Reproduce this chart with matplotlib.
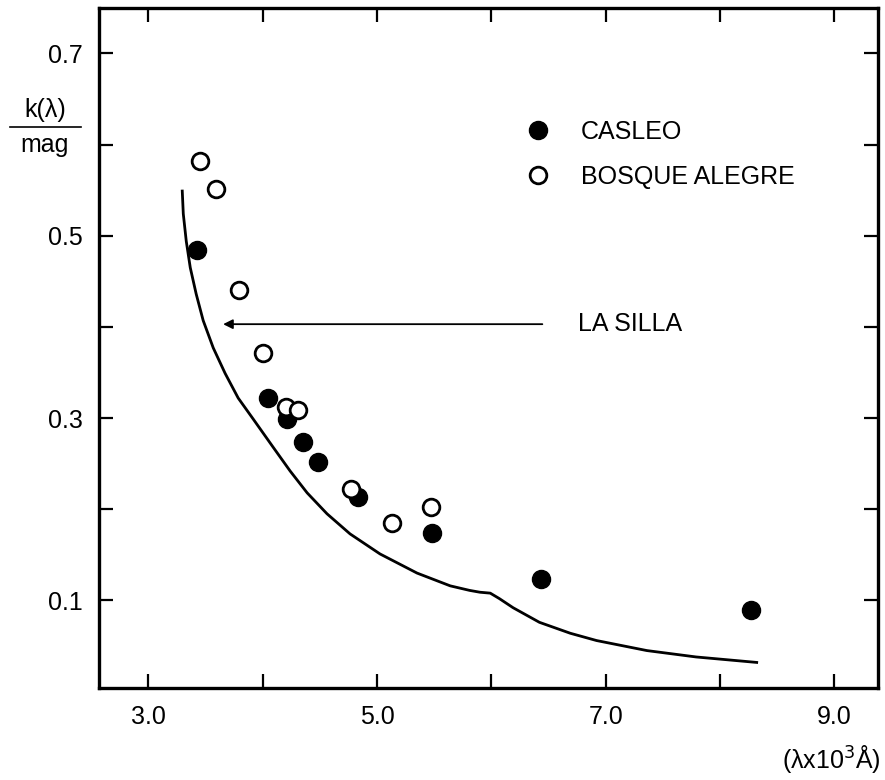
import matplotlib
matplotlib.use("Agg")
import matplotlib.pyplot as plt
from matplotlib.lines import Line2D

plt.rcParams['font.family'] = ['Liberation Sans', 'DejaVu Sans']

# CASLEO (filled circles)
casleo_wl = [3.43, 4.05, 4.21, 4.35, 4.48, 4.83, 5.48, 6.43, 8.27]
casleo_k = [0.484, 0.322, 0.299, 0.274, 0.252, 0.213, 0.174, 0.124, 0.089]

# Bosque Alegre (open circles)
bosque_wl = [3.45, 3.59, 3.79, 4.00, 4.20, 4.31, 4.77, 5.13, 5.47]
bosque_k = [0.582, 0.551, 0.441, 0.371, 0.312, 0.309, 0.222, 0.185, 0.202]

# La Silla extinction curve
silla_wl = [3.297, 3.306, 3.332, 3.367, 3.419, 3.480, 3.568, 3.672, 3.786, 3.917,
            4.092, 4.240, 4.389, 4.563, 4.764, 5.026, 5.35, 5.64, 5.81, 5.90,
            5.99, 6.07, 6.19, 6.42, 6.69, 6.92, 7.36, 7.79, 8.32]
silla_k = [0.549, 0.524, 0.494, 0.465, 0.436, 0.407, 0.377, 0.349, 0.322, 0.299,
           0.268, 0.242, 0.218, 0.195, 0.173, 0.151, 0.130, 0.116, 0.111, 0.109,
           0.108, 0.102, 0.092, 0.076, 0.064, 0.056, 0.045, 0.038, 0.032]

x_major = [3.0, 5.0, 7.0, 9.0]
x_minor = [4.0, 6.0, 8.0]
y_major = [0.1, 0.3, 0.5, 0.7]
y_minor = [0.2, 0.4, 0.6]

fig = plt.figure(figsize=(8.85, 7.8), dpi=100)
ax = fig.add_axes([0.112, 0.118, 0.880, 0.872])

ax.plot(silla_wl, silla_k, color='black', lw=2.0, solid_joinstyle='round')
ax.plot(casleo_wl, casleo_k, 'o', color='black', ms=13, ls='none', label='CASLEO')
ax.plot(bosque_wl, bosque_k, 'o', mfc='white', mec='black', mew=2.0, ms=12,
        ls='none', label='BOSQUE ALEGRE')

ax.annotate('', xy=(3.63, 0.403), xytext=(6.47, 0.403),
            arrowprops=dict(arrowstyle='-|>', color='black', lw=1.3,
                            mutation_scale=14))
ax.text(6.76, 0.403, 'LA SILLA', fontsize=18, va='center', ha='left')

leg = ax.legend(loc='upper left', bbox_to_anchor=(0.532, 0.854), frameon=False,
                fontsize=18, handlelength=1.0, handletextpad=1.2,
                labelspacing=0.85, borderpad=0)

ax.set_xlim(2.57, 9.38)
ax.set_ylim(0.004, 0.75)
ax.set_xticks(x_major)
ax.set_xticklabels(['3.0', '5.0', '7.0', '9.0'])
ax.set_xticks(x_minor, minor=True)
ax.set_yticks(y_major)
ax.set_yticklabels(['0.1', '0.3', '0.5', '0.7'])
ax.set_yticks(y_minor, minor=True)

ax.tick_params(which='both', direction='in', length=10, width=1.6,
               top=True, right=True, labelsize=18)
ax.tick_params(axis='x', which='both', pad=12)
ax.tick_params(axis='y', which='both', pad=12)
for s in ax.spines.values():
    s.set_linewidth(2.4)

# y label as a fraction k(lambda)/mag
fig.text(0.051, 0.843, 'k(λ)', fontsize=18, ha='center', va='bottom')
fig.add_artist(Line2D([0.011, 0.092], [0.837, 0.837], color='black', lw=1.2,
                      transform=fig.transFigure))
fig.text(0.050, 0.830, 'mag', fontsize=18, ha='center', va='top')

fig.text(0.995, 0.006, '(λx10$^3$Å)', fontsize=18, ha='right', va='bottom')

fig.savefig('out.png', dpi=100)
